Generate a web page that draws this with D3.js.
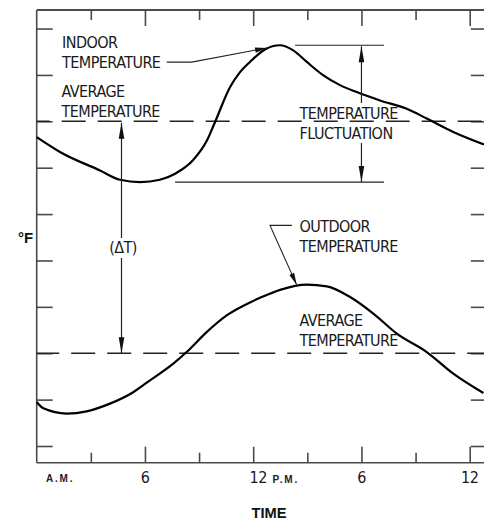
<!DOCTYPE html>
<html>
<head>
<meta charset="utf-8">
<script src="https://cdn.jsdelivr.net/npm/d3@7"></script>
<style>
  html, body { margin: 0; padding: 0; background: #fff; overflow: hidden; }
  svg { display: block; }
  .lbl { font-family: "Liberation Sans Narrow", "DejaVu Sans Condensed", "Liberation Sans", sans-serif; font-size: 16px; letter-spacing: -0.55px; fill: #1a1a1a; }
  .small { font-family: "Liberation Sans", Arial, sans-serif; font-size: 10px; font-weight: bold; letter-spacing: 1.8px; fill: #222; }
  .bold { font-family: "Liberation Sans", Arial, sans-serif; font-weight: bold; fill: #111; }
</style>
</head>
<body>
<svg id="chart" width="484" height="523"></svg>
<script>
// Hours of the day (0 = midnight A.M., 24 = next midnight)
const indoorHours = [0, 1.29, 3.51, 4.62, 5.73, 6.83, 7.67, 8.66, 9.44, 9.88, 10.72, 11.27, 11.82, 12.65, 13.48, 14.22, 14.97, 15.89, 16.81, 17.74, 19.03, 20.51, 21.62, 23.09, 24.79];
// Indoor temperature, °F
const indoorTemps = [83.3, 81.7, 79.7, 78.7, 78.45, 78.7, 79.35, 80.8, 82.95, 84.9, 88.7, 90.3, 91.4, 92.75, 93.2, 92.65, 91.4, 89.95, 88.9, 88.15, 87.25, 86.35, 85.3, 83.85, 82.5];

const outdoorHours = [0, 0.37, 1.66, 2.77, 4.06, 5.35, 6.28, 7.57, 8.31, 9.42, 10.53, 11.82, 12.38, 13.49, 14.97, 16.08, 17.37, 18.66, 19.96, 21.62, 23.09, 24.76];
// Outdoor temperature, °F
const outdoorTemps = [54.74, 54.06, 53.5, 53.74, 54.57, 55.8, 57.08, 58.88, 60.13, 62.28, 64.08, 65.48, 65.97, 66.83, 67.39, 67.21, 66.06, 64.27, 62.11, 60.13, 57.8, 55.71];

// Daily averages, °F
const indoorAverage = 85;
const outdoorAverage = 60;

// Axis ticks (unlabelled on the temperature axis)
const hourTicksMajor = [6, 12, 18, 24];
const hourTicksMinor = [3, 9, 15, 21];
const tempTicks = [50, 55, 60, 65, 70, 75, 80, 85, 90, 95];
const hourLabels = [
  { h: 6, text: "6" },
  { h: 12, text: "12", dx: 5 },
  { h: 18, text: "6" },
  { h: 24, text: "12" }
];

const svg = d3.select("#chart");

const x = d3.scaleLinear().domain([0, 24]).range([36.7, 469.7]);
const y = d3.scaleLinear().domain([48.2, 97]).range([462.7, 10]);
const xEnd = 24.95; // right frame edge, just past the last midnight

const frameColor = "#4a4a4a";

// Arrowhead markers
const defs = svg.append("defs");
function marker(id, len, half) {
  defs.append("marker")
    .attr("id", id)
    .attr("markerUnits", "userSpaceOnUse")
    .attr("viewBox", `${-len - 1} ${-half - 1} ${len + 2} ${2 * half + 2}`)
    .attr("refX", 0).attr("refY", 0)
    .attr("markerWidth", len + 2).attr("markerHeight", 2 * half + 2)
    .attr("orient", "auto")
    .append("path")
    .attr("d", `M0,0L${-len},${-half}L${-len},${half}Z`)
    .attr("fill", "#111");
}
marker("headLong", 16, 2.8);
marker("headLeader", 12, 2.6);

// Frame: top, bottom and left edges
const frame = svg.append("g").attr("stroke", frameColor).attr("stroke-width", 1.6);
frame.append("line").attr("x1", x(0)).attr("x2", x(xEnd)).attr("y1", y(97)).attr("y2", y(97)).attr("stroke", "#111");
frame.append("line").attr("x1", x(0)).attr("x2", x(xEnd)).attr("y1", y(48.2)).attr("y2", y(48.2));
frame.append("line").attr("x1", x(0)).attr("x2", x(0)).attr("y1", y(97)).attr("y2", y(48.2));

function tickAxis(axis, tx, ty, values, size) {
  const g = svg.append("g").attr("transform", `translate(${tx},${ty})`)
    .call(axis.tickValues(values).tickSize(size).tickFormat(""));
  g.select(".domain").remove();
  g.selectAll(".tick line").attr("stroke", frameColor).attr("stroke-width", 1.6);
}
// Bottom edge: ticks pointing up into the plot
tickAxis(d3.axisTop(x), 0, y(48.2), hourTicksMajor, 16);
tickAxis(d3.axisTop(x), 0, y(48.2), hourTicksMinor, 10);
// Top edge: ticks pointing down
tickAxis(d3.axisBottom(x), 0, y(97), hourTicksMajor, 16);
tickAxis(d3.axisBottom(x), 0, y(97), hourTicksMinor, 10);
// Left and right edges
tickAxis(d3.axisRight(y), x(0), 0, tempTicks, 16);
tickAxis(d3.axisLeft(y), x(xEnd), 0, tempTicks, 16);

// Average temperature dashed lines
function dashed(v, offset) {
  svg.append("line")
    .attr("x1", x(0)).attr("x2", x(xEnd))
    .attr("y1", y(v)).attr("y2", y(v))
    .attr("stroke", "#222").attr("stroke-width", 1.5)
    .attr("stroke-dasharray", "24 12")
    .attr("stroke-dashoffset", offset);
}
dashed(indoorAverage, 11);
dashed(outdoorAverage, 1.5);

// Temperature curves
const line = d3.line().x(d => x(d[0])).y(d => y(d[1])).curve(d3.curveMonotoneX);
const indoor = indoorHours.map((h, i) => [h, indoorTemps[i]]);
const outdoor = outdoorHours.map((h, i) => [h, outdoorTemps[i]]);
svg.append("path").datum(indoor).attr("d", line)
  .attr("fill", "none").attr("stroke", "#000").attr("stroke-width", 2.2);
svg.append("path").datum(outdoor).attr("d", line)
  .attr("fill", "none").attr("stroke", "#000").attr("stroke-width", 2.2);

// Temperature fluctuation: max/min reference lines and double arrow
const tMax = d3.max(indoorTemps), tMin = d3.min(indoorTemps);
const fluctX = 18;
svg.append("line").attr("x1", x(14.32)).attr("x2", x(19.25))
  .attr("y1", y(tMax)).attr("y2", y(tMax)).attr("stroke", "#222").attr("stroke-width", 1.2);
svg.append("line").attr("x1", x(7.67)).attr("x2", x(19.25))
  .attr("y1", y(tMin)).attr("y2", y(tMin)).attr("stroke", "#222").attr("stroke-width", 1.2);
svg.append("line").attr("x1", x(fluctX)).attr("x2", x(fluctX))
  .attr("y1", 103).attr("y2", y(tMax) + 1)
  .attr("stroke", "#222").attr("stroke-width", 1.2).attr("marker-end", "url(#headLong)");
svg.append("line").attr("x1", x(fluctX)).attr("x2", x(fluctX))
  .attr("y1", 143).attr("y2", y(tMin))
  .attr("stroke", "#222").attr("stroke-width", 1.2).attr("marker-end", "url(#headLong)");

// ΔT: indoor average to outdoor average
const dtX = 4.7;
svg.append("line").attr("x1", x(dtX)).attr("x2", x(dtX))
  .attr("y1", 238).attr("y2", y(indoorAverage) + 1.5)
  .attr("stroke", "#222").attr("stroke-width", 1.2).attr("marker-end", "url(#headLong)");
svg.append("line").attr("x1", x(dtX)).attr("x2", x(dtX))
  .attr("y1", 258).attr("y2", y(outdoorAverage))
  .attr("stroke", "#222").attr("stroke-width", 1.2).attr("marker-end", "url(#headLong)");

// Leader lines
const leaderLine = d3.line().x(d => x(d[0])).y(d => y(d[1]));
svg.append("path").datum([[7.21, 91.38], [8.59, 91.38], [12.77, 92.91]]).attr("d", leaderLine)
  .attr("fill", "none").attr("stroke", "#222").attr("stroke-width", 1.1).attr("marker-end", "url(#headLeader)");
svg.append("path").datum([[14.14, 73.78], [12.93, 73.78], [14.41, 67.37]]).attr("d", leaderLine)
  .attr("fill", "none").attr("stroke", "#222").attr("stroke-width", 1.1).attr("marker-end", "url(#headLeader)");

// Text labels
function label(tx, ty, text, anchor) {
  svg.append("text").attr("class", "lbl").attr("x", tx).attr("y", ty)
    .attr("text-anchor", anchor || "start").text(text);
}
label(62, 48.3, "INDOOR");
label(62, 68.3, "TEMPERATURE");
label(61.5, 96.7, "AVERAGE");
label(61.5, 116.7, "TEMPERATURE");
label(299.5, 119, "TEMPERATURE");
label(299.5, 139, "FLUCTUATION");
label(x(dtX) + 1.5, 253.3, "(ΔT)", "middle");
label(299.5, 232.3, "OUTDOOR");
label(299.5, 252.3, "TEMPERATURE");
label(299.5, 326, "AVERAGE");
label(299.5, 345.7, "TEMPERATURE");

// Hour labels
hourLabels.forEach(d => {
  svg.append("text").attr("class", "lbl")
    .attr("x", x(d.h) + (d.dx || 0)).attr("y", 483.3)
    .attr("text-anchor", "middle").text(d.text);
});
svg.append("text").attr("class", "small").attr("x", 46).attr("y", 481.7).text("A.M.");
svg.append("text").attr("class", "small").attr("x", 272.5).attr("y", 483.3).text("P.M.");

// Axis titles
svg.append("text").attr("class", "bold").attr("x", 269).attr("y", 518.3)
  .attr("text-anchor", "middle").attr("font-size", 14.7).text("TIME");
svg.append("text").attr("class", "bold").attr("x", 18).attr("y", 243.3)
  .attr("font-size", 15).text("°F");
</script>
</body>
</html>
